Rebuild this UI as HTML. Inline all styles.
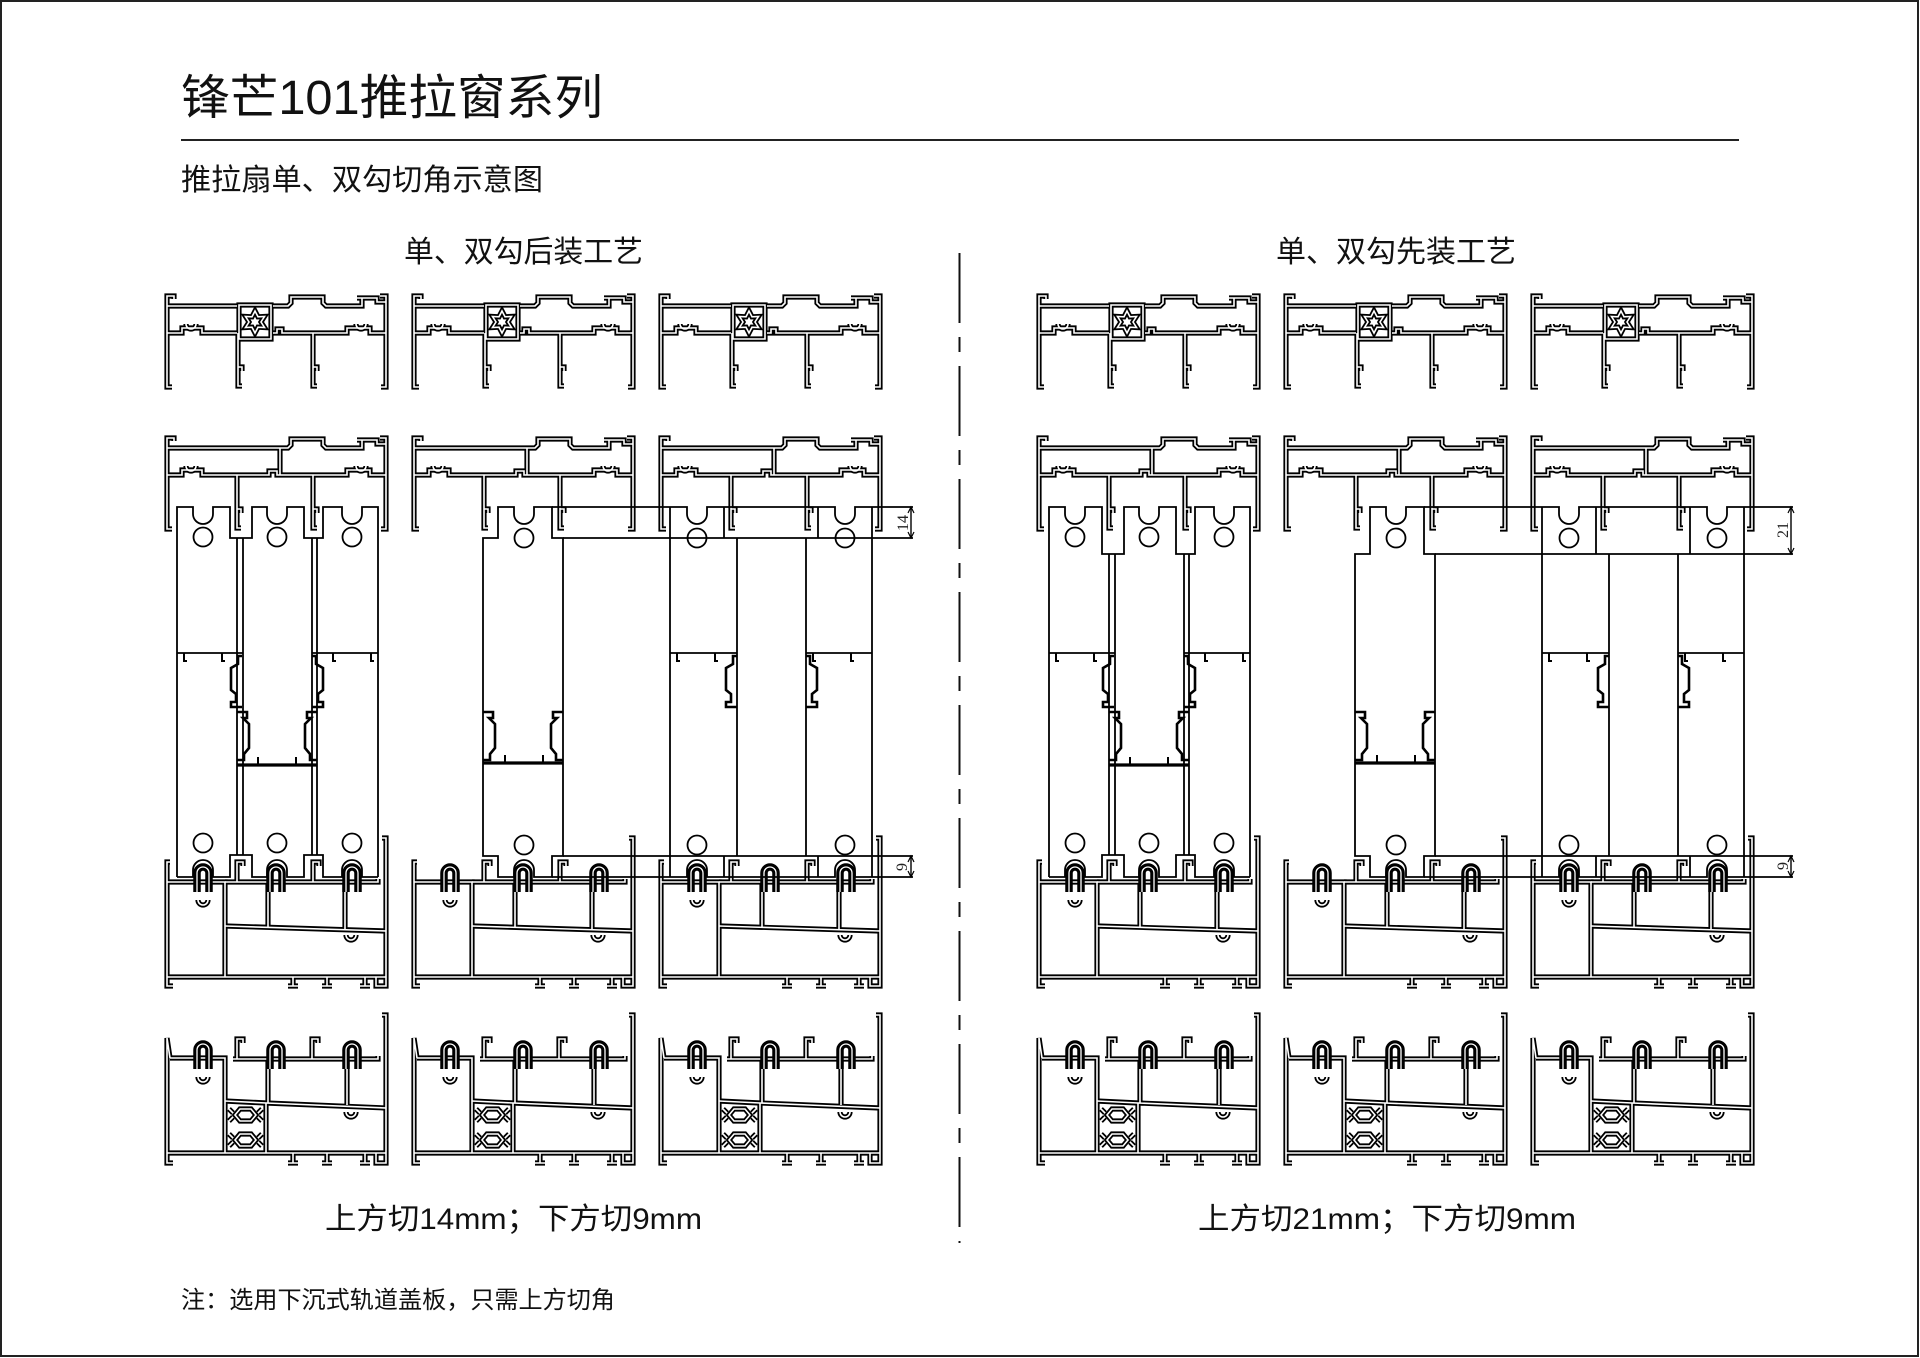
<!DOCTYPE html>
<html><head><meta charset="utf-8">
<style>
html,body{margin:0;padding:0;background:#fff;}
svg{display:block;}
.t{font-family:"Liberation Sans","Noto Sans CJK SC",sans-serif;fill:#111;}
.d{font-family:"Liberation Serif","Noto Serif CJK SC",serif;fill:#222;}
</style></head><body>
<svg width="1920" height="1358" viewBox="0 0 1920 1358" xmlns="http://www.w3.org/2000/svg">
<defs>
 <g id="gTopA">
  <path d="M7,92 H2 V1 H9 V4"/>
  <path d="M2,11 H72"/>
  <path d="M108,11 H123 L126,8 V2 H158 V8 L161,11 H197 V3 H192 M197,3 H212 V7 H221"/>
  <path d="M215,1 H221 V92 H216"/>
  <path d="M2,38 H17 V33 H37 V38 H72"/>
  <path d="M108,38 H112 V34 H117 V38 H182 V33 H205 V38 H221"/>
  <path d="M21,29 A5,5 0 0 0 31,29 M191,29 A5,5 0 0 0 201,29"/>
  <path d="M74,10 H106 V44 H74 Z"/>
  <path d="M90,16 L93,21.8 L99.5,21.5 L96,27 L99.5,32.5 L93,32.2 L90,38 L87,32.2 L80.5,32.5 L84,27 L80.5,21.5 L87,21.8 Z"/>
  <path d="M73,38 V91 H77 M73,72 H77 V76 M148,38 V91 H152 M148,72 H152 V76"/>
 </g>
 <g id="gTopB">
  <path d="M7,92 H2 V1 H9 V4"/>
  <path d="M2,11 H123 L126,8 V2 H158 V8 L161,11 H197 V3 H192 M197,3 H212 V7 H221"/>
  <path d="M215,1 H221 V92 H216"/>
  <path d="M2,38 H17 V33 H37 V38 H104 V34 H112 V38 H182 V33 H205 V38 H221"/>
  <path d="M21,29 A5,5 0 0 0 31,29 M191,29 A5,5 0 0 0 201,29"/>
  <path d="M115,11 V38"/>
  <path d="M72,38 V91 H76 M72,72 H76 V76 M148,38 V91 H152 M148,72 H152 V76"/>
 </g>
 <g id="gBotA">
  <path d="M8,148 H2 V24 H5"/>
  <path d="M2,44 H60 V139"/>
  <path d="M60,44 H213 V41"/>
  <path d="M72,44 V24 H78 V28 M148,44 V24 H154 V28"/>
  <path d="M103,44 V89 M180,44 V91"/>
  <path d="M60,88 L221,93"/>
  <path d="M2,139 H221"/>
  <path d="M217,0 H221 V148 H216"/>
  <path d="M128,139 V148 M123,148 H133 M162,139 V148 M157,148 H167 M200,139 V148 M195,148 H205 M211,139 V148 H216"/>
  <path d="M181,97 A5,5 0 0 0 191,97"/>
  <path d="M33,62 A5,5 0 0 0 43,62"/>
 </g>
 <g id="gBotB">
  <path d="M8,148 H2 V23 L5,43"/>
  <path d="M5,43 H60 V138"/>
  <path d="M68,44 H213 V41"/>
  <path d="M72,44 V24 H78 V28 M147,44 V24 H153 V28"/>
  <path d="M103,44 V88 M182,44 V90"/>
  <path d="M60,86 L101,88 L221,93"/>
  <path d="M101,88 V138"/>
  <path d="M2,138 H221"/>
  <path d="M217,0 H221 V148 H216"/>
  <path d="M128,138 V148 M123,148 H133 M162,138 V148 M157,148 H167 M200,138 V148 M195,148 H205 M211,138 V148 H216"/>
  <path d="M70,100 L75,94 H86 L91,100 L86,106 H75 Z M70,125 L75,119 H86 L91,125 L86,131 H75 Z"/>
  <path d="M64,94 L68,98 M64,106 L68,102 M97,94 L93,98 M97,106 L93,102 M64,119 L68,123 M64,131 L68,127 M97,119 L93,123 M97,131 L93,127"/>
  <path d="M181,97 A5,5 0 0 0 191,97"/>
  <path d="M33,62 A5,5 0 0 0 43,62"/>
 </g>
 <g id="gRoll"><path d="M-6,54 V35 A6,6 0 0 1 6,35 V54"/></g>
 <g id="roll"><use href="#gRoll" stroke="#000" stroke-width="7.5" fill="none"/><use href="#gRoll" stroke="#fff" stroke-width="1.3" fill="none"/></g>

 <g id="fTopA"><use href="#gTopA" stroke="#000" stroke-width="5.2" fill="none"/><use href="#gTopA" stroke="#fff" stroke-width="1.6" fill="none"/></g>
 <g id="fTopB"><use href="#gTopB" stroke="#000" stroke-width="5.2" fill="none"/><use href="#gTopB" stroke="#fff" stroke-width="1.6" fill="none"/></g>
 <g id="fBotA"><use href="#gBotA" stroke="#000" stroke-width="5.2" fill="none"/><use href="#gBotA" stroke="#fff" stroke-width="1.6" fill="none"/>
  <use href="#roll" x="38"/><use href="#roll" x="111"/><use href="#roll" x="187"/></g>
 <g id="fBotB"><use href="#gBotB" stroke="#000" stroke-width="5.2" fill="none"/><use href="#gBotB" stroke="#fff" stroke-width="1.6" fill="none"/>
  <use href="#roll" x="38"/><use href="#roll" x="111"/><use href="#roll" x="187"/></g>

 <g id="sMid" fill="none" stroke="#000">
  <path stroke-width="1.8" d="M177,653 H243 M312,653 H378"/>
  <path stroke-width="3.2" d="M237,765 H317"/>
  <path stroke-width="2" d="M184,653 V661 H187 M222,653 V661 H225 M258,765 V757 M296,765 V757 M333,653 V661 H336 M371,653 V661 H374"/>
  <path stroke-width="2.6" d="M242,656 H238 V664 L231,668 V690 L236,694 V702 H231 V707 H242 M237,712 H247 V718 H243 L249,724 V748 L244,754 V760 H237 M312,656 H316 V664 L323,668 V690 L318,694 V702 H323 V707 H312 M317,712 H307 V718 H311 L305,724 V748 L310,754 V760 H317"/>
  <path stroke-width="3.2" d="M483,763 H563"/>
  <path stroke-width="2" d="M505,763 V755 M543,763 V755"/>
  <path stroke-width="2.6" d="M483,712 H493 V718 H489 L495,724 V748 L490,754 V760 H483 M563,712 H553 V718 H557 L551,724 V748 L556,754 V760 H563"/>
  <path stroke-width="1.8" d="M670,653 H737 M806,653 H872"/>
  <path stroke-width="2" d="M677,653 V661 H680 M715,653 V661 H718 M813,653 V661 H816 M851,653 V661 H854"/>
  <path stroke-width="2.6" d="M737,656 H733 V664 L726,668 V690 L731,694 V702 H726 V707 H737 M806,656 H810 V664 L817,668 V690 L812,694 V702 H817 V707 H806"/>
  <g stroke-width="1.8">
   <circle cx="203" cy="537" r="9.5"/><circle cx="277" cy="537" r="9.5"/><circle cx="352" cy="537" r="9.5"/>
   <circle cx="203" cy="843" r="9.5"/><circle cx="277" cy="843" r="9.5"/><circle cx="352" cy="843" r="9.5"/>
   <circle cx="524" cy="538" r="9.5"/><circle cx="524" cy="845" r="9.5"/>
   <circle cx="697" cy="538" r="9.5"/><circle cx="845" cy="538" r="9.5"/>
   <circle cx="697" cy="845" r="9.5"/><circle cx="845" cy="845" r="9.5"/>
  </g>
 </g>
</defs>

<rect width="1920" height="1358" fill="#fff"/>
<rect x="1" y="1" width="1917" height="1355" fill="none" stroke="#222" stroke-width="2"/>

<text class="t" x="181" y="114" font-size="48" textLength="422" lengthAdjust="spacingAndGlyphs">锋芒101推拉窗系列</text>
<line x1="181" y1="140" x2="1739" y2="140" stroke="#222" stroke-width="2"/>
<text class="t" x="181" y="190" font-size="30" textLength="362" lengthAdjust="spacingAndGlyphs">推拉扇单、双勾切角示意图</text>
<text class="t" x="404" y="262" font-size="30" textLength="239" lengthAdjust="spacingAndGlyphs">单、双勾后装工艺</text>
<text class="t" x="1276" y="262" font-size="30" textLength="240" lengthAdjust="spacingAndGlyphs">单、双勾先装工艺</text>

<line x1="959.5" y1="253" x2="959.5" y2="1243" stroke="#111" stroke-width="2" stroke-dasharray="70 14 15 14"/>

<g>
 <use href="#fTopA" x="165" y="295"/><use href="#fTopA" x="412" y="295"/><use href="#fTopA" x="659" y="295"/>
 <use href="#fTopA" x="1037" y="295"/><use href="#fTopA" x="1284" y="295"/><use href="#fTopA" x="1531" y="295"/>
 <use href="#fTopB" x="165" y="437"/><use href="#fTopB" x="412" y="437"/><use href="#fTopB" x="659" y="437"/>
 <use href="#fTopB" x="1037" y="437"/><use href="#fTopB" x="1284" y="437"/><use href="#fTopB" x="1531" y="437"/>
 <use href="#fBotA" x="165" y="838"/><use href="#fBotA" x="412" y="838"/><use href="#fBotA" x="659" y="838"/>
 <use href="#fBotA" x="1037" y="838"/><use href="#fBotA" x="1284" y="838"/><use href="#fBotA" x="1531" y="838"/>
 <use href="#fBotB" x="165" y="1015"/><use href="#fBotB" x="412" y="1015"/><use href="#fBotB" x="659" y="1015"/>
 <use href="#fBotB" x="1037" y="1015"/><use href="#fBotB" x="1284" y="1015"/><use href="#fBotB" x="1531" y="1015"/>
</g>

<g fill="none" stroke="#000" stroke-width="1.8">
 <path d="M177,877 V507 H193 V514 A10,10 0 0 0 213,514 V507 H230 V538 H252 V507 H267 V514 A10,10 0 0 0 287,514 V507 H304 V538 H323 V507 H342 V514 A10,10 0 0 0 362,514 V507 H378 V877"/>
 <path d="M177,877 H193 V870 A10,10 0 0 1 213,870 V877 H230 V855 H252 V877 H267 V870 A10,10 0 0 1 287,870 V877 H304 V855 H323 V877 H342 V870 A10,10 0 0 1 362,870 V877 H378"/>
 <path d="M237,538 V855 M243,538 V855 M312,538 V855 M317,538 V855"/>
 <path d="M483,538 H498 V507 H514 V514 A10,10 0 0 0 534,514 V507 H552 V538 H563 V856 H552 V877 H534 V870 A10,10 0 0 0 514,870 V877 H498 V856 H483 Z"/>
 <path d="M552,507 H687 V514 A10,10 0 0 0 707,514 V507 H835 V514 A10,10 0 0 0 855,514 V507 H913"/>
 <path d="M563,538 H913 M563,856 H913"/>
 <path d="M552,877 H687 V870 A10,10 0 0 1 707,870 V877 H835 V870 A10,10 0 0 1 855,870 V877 H913"/>
 <path d="M670,507 V877 M737,538 V856 M806,538 V856 M872,507 V877 M724,507 V538 M818,507 V538 M724,856 V877 M818,856 V877"/>
 <path d="M911,507 V538 M911,856 V877" stroke-width="1.4"/>
 <path d="M908,513 L911,507 L914,513 M908,532 L911,538 L914,532 M908,862 L911,856 L914,862 M908,871 L911,877 L914,871" stroke-width="1.2"/>
</g>
<use href="#sMid"/>
<text class="d" transform="translate(908,523) rotate(-90)" text-anchor="middle" font-size="16">14</text>
<text class="d" transform="translate(907,867) rotate(-90)" text-anchor="middle" font-size="16">9</text>

<g transform="translate(872,0)">
 <g fill="none" stroke="#000" stroke-width="1.8">
  <path d="M177,877 V507 H193 V514 A10,10 0 0 0 213,514 V507 H230 V554 H252 V507 H267 V514 A10,10 0 0 0 287,514 V507 H304 V554 H323 V507 H342 V514 A10,10 0 0 0 362,514 V507 H378 V877"/>
  <path d="M177,877 H193 V870 A10,10 0 0 1 213,870 V877 H230 V855 H252 V877 H267 V870 A10,10 0 0 1 287,870 V877 H304 V855 H323 V877 H342 V870 A10,10 0 0 1 362,870 V877 H378"/>
  <path d="M237,554 V855 M243,554 V855 M312,554 V855 M317,554 V855"/>
  <path d="M483,554 H498 V507 H514 V514 A10,10 0 0 0 534,514 V507 H552 V554 H563 V856 H552 V877 H534 V870 A10,10 0 0 0 514,870 V877 H498 V856 H483 Z"/>
  <path d="M552,507 H687 V514 A10,10 0 0 0 707,514 V507 H835 V514 A10,10 0 0 0 855,514 V507 H921"/>
  <path d="M563,554 H921 M563,856 H921"/>
  <path d="M552,877 H687 V870 A10,10 0 0 1 707,870 V877 H835 V870 A10,10 0 0 1 855,870 V877 H921"/>
  <path d="M670,507 V877 M737,554 V856 M806,554 V856 M872,507 V877 M724,507 V554 M818,507 V554 M724,856 V877 M818,856 V877"/>
  <path d="M919,507 V554 M919,856 V877" stroke-width="1.4"/>
  <path d="M916,513 L919,507 L922,513 M916,548 L919,554 L922,548 M916,862 L919,856 L922,862 M916,871 L919,877 L922,871" stroke-width="1.2"/>
 </g>
 <use href="#sMid"/>
</g>
<text class="d" transform="translate(1788,530) rotate(-90)" text-anchor="middle" font-size="16">21</text>
<text class="d" transform="translate(1788,866) rotate(-90)" text-anchor="middle" font-size="16">9</text>

<text class="t" x="325" y="1229" font-size="30" textLength="377" lengthAdjust="spacingAndGlyphs">上方切14mm；下方切9mm</text>
<text class="t" x="1198" y="1229" font-size="30" textLength="378" lengthAdjust="spacingAndGlyphs">上方切21mm；下方切9mm</text>
<text class="t" x="181" y="1308" font-size="24" textLength="434" lengthAdjust="spacingAndGlyphs">注：选用下沉式轨道盖板，只需上方切角</text>
</svg>
</body></html>
